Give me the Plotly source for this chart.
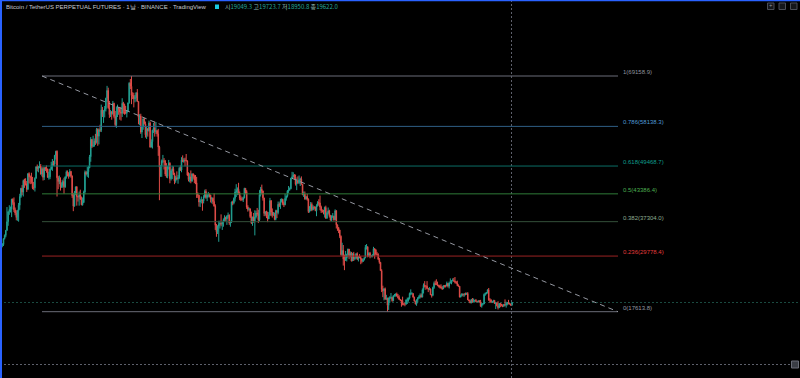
import plotly.graph_objects as go
import pandas as pd

# ---------------- data (prices in thousands of USDT, daily candles) ----------------
start_date = "2021-07-20"
open0_k = 30.8

close_k = [
    29.8, 32.1, 32.3, 33.6, 34.3, 35.4, 37.3, 39.5, 40.0, 40.0, 42.2, 41.5,
    39.9, 39.2, 38.2, 39.7, 40.9, 42.8, 44.6, 43.8, 46.3, 45.6, 45.6, 44.4, 47.8, 47.1, 47.0, 46.0, 44.7, 44.7, 46.8, 49.3, 48.9, 49.3, 49.5, 47.7, 48.9, 47.0, 49.1, 48.9, 48.8, 47.0, 47.1,
    48.8, 49.3, 50.0, 49.9, 51.8, 52.7, 46.9, 46.1, 46.4, 44.9, 45.2, 46.1, 44.9, 47.1, 48.2, 47.8, 47.3, 48.3, 47.3, 43.0, 40.7, 43.6, 44.9, 42.8, 42.7, 43.2, 42.2, 41.0, 41.5, 43.8,
    48.1, 47.7, 48.2, 49.1, 51.5, 55.3, 53.8, 53.9, 54.9, 54.7, 57.5, 56.0, 57.4, 57.3, 61.7, 60.9, 61.5, 62.0, 64.3, 66.0, 62.2, 60.7, 61.3, 60.9, 63.2, 60.3, 58.5, 60.6, 62.2, 61.9, 61.3,
    61.0, 63.2, 62.9, 61.4, 61.0, 61.5, 63.3, 67.6, 66.9, 64.9, 64.9, 64.2, 64.4, 65.5, 63.6, 60.1, 60.4, 56.9, 58.1, 59.8, 58.7, 56.3, 57.6, 57.2, 58.9, 53.6, 54.8, 57.3, 57.8, 57.0,
    57.2, 56.5, 53.6, 49.2, 49.4, 50.6, 50.6, 50.5, 47.7, 47.2, 49.4, 50.1, 46.7, 48.4, 48.9, 47.6, 46.2, 46.9, 46.7, 46.9, 49.0, 48.6, 50.8, 50.4, 50.8, 50.7, 50.6, 47.5, 46.5, 47.1, 46.2,
    47.7, 47.3, 46.4, 45.8, 43.4, 43.1, 41.6, 41.9, 42.0, 41.8, 42.7, 43.9, 42.6, 43.1, 43.2, 43.1, 42.2, 42.4, 41.7, 40.7, 36.5, 35.1, 36.3, 36.7, 36.9, 36.8, 37.2, 37.7, 38.2, 37.9, 38.5,
    38.7, 37.0, 37.3, 41.6, 41.4, 42.4, 43.8, 44.1, 44.4, 43.6, 42.4, 42.2, 42.1, 42.5, 44.6, 43.9, 40.5, 40.0, 40.1, 38.4, 37.0, 38.3, 37.3, 38.3, 39.2, 39.1, 37.7, 43.2,
    44.4, 44.0, 42.5, 39.1, 39.4, 38.4, 37.9, 38.7, 41.9, 39.4, 38.7, 38.8, 37.8, 39.7, 39.3, 41.1, 40.9, 41.8, 42.2, 41.3, 41.0, 42.4, 42.9, 44.0, 44.3, 44.5, 46.8, 47.1, 47.5, 47.1, 45.5,
    46.3, 45.8, 46.4, 46.6, 45.5, 43.2, 43.4, 42.3, 42.8, 42.2, 39.5, 40.1, 41.1, 39.9, 40.5, 40.4, 39.7, 40.8, 41.5, 41.4, 40.5, 39.7, 39.5, 39.5, 40.4, 38.1, 39.2, 39.7, 38.6, 37.6,
    38.5, 38.5, 37.7, 39.7, 36.6, 36.0, 35.5, 34.1, 30.1, 31.0, 29.1, 28.9, 29.3, 30.1, 31.3, 29.9, 30.4, 28.7, 30.3, 29.2, 29.4, 30.3, 29.1, 29.6, 29.5, 29.2, 28.6, 29.0, 29.4, 31.7, 31.8,
    29.8, 30.4, 29.7, 29.9, 29.9, 31.4, 31.1, 30.2, 30.1, 29.1, 28.4, 26.6, 22.5, 22.2, 22.6, 20.4, 20.5, 19.0, 20.6, 20.6, 20.7, 20.0, 21.1, 21.2, 21.5, 21.0, 20.7, 20.3, 20.1, 19.9,
    19.3, 19.3, 19.3, 20.2, 20.2, 20.6, 21.6, 21.6, 21.6, 20.8, 19.9, 19.3, 20.2, 20.6, 20.8, 21.2, 20.8, 22.4, 23.4, 23.2, 23.2, 22.7, 22.5, 22.6, 21.3, 21.2, 22.9, 23.8, 23.6, 23.6, 23.3,
    23.3, 23.0, 22.8, 22.6, 23.3, 23.2, 23.2, 23.8, 23.2, 23.9, 23.9, 24.4, 24.4, 24.3, 24.1, 23.9, 23.3, 23.2, 20.8, 21.1, 21.5, 21.4, 21.5, 21.4, 21.6, 20.2, 20.0, 19.5, 20.3, 19.8, 20.0,
    20.1, 19.9, 19.8, 20.0, 19.8, 18.8, 19.3, 19.3, 21.4, 21.6, 21.8, 22.4, 20.2, 20.2, 19.7, 19.8, 20.1, 19.4, 19.5, 18.9, 18.5, 19.4, 19.3, 18.9, 18.8, 19.2, 19.1, 19.4, 19.6, 19.4,
    19.3, 19.05, 19.622,
]

high_k = [
    31.0, 32.9, 32.6, 33.6, 34.5, 35.4, 40.5, 39.5, 40.9, 40.6, 42.3, 42.4,
    42.6, 40.4, 39.8, 39.9, 41.4, 43.4, 44.7, 45.3, 46.5, 46.7, 46.8, 46.2, 47.9, 48.1, 47.4, 48.0, 47.1, 46.0, 47.0, 49.4, 49.8, 49.5, 50.5, 49.9, 49.2, 49.3, 49.2, 49.3, 49.6, 48.9, 48.2,
    48.9, 50.4, 51.0, 50.6, 51.9, 52.8, 52.9, 47.3, 47.4, 47.0, 45.9, 46.5, 46.9, 47.2, 48.5, 48.5, 48.1, 48.8, 48.4, 47.4, 43.6, 44.0, 45.0, 45.1, 42.9, 43.9, 44.3, 42.8, 42.6, 44.1,
    48.5, 48.4, 49.3, 49.5, 51.9, 55.8, 55.3, 56.1, 55.5, 56.5, 57.8, 57.7, 57.7, 58.5, 62.9, 62.4, 61.7, 62.6, 64.4, 67.0, 66.6, 63.7, 61.7, 61.5, 63.7, 63.3, 61.5, 62.5, 62.9, 62.3, 62.4,
    62.4, 64.3, 63.5, 63.1, 62.6, 61.6, 63.3, 67.8, 68.5, 69.1589, 65.6, 65.5, 65.0, 65.6, 66.3, 63.6, 60.8, 60.9, 58.3, 59.9, 60.0, 59.2, 58.0, 57.8, 59.4, 59.2, 55.3, 57.4, 58.9, 59.2,
    59.1, 57.4, 57.6, 53.9, 49.7, 50.9, 51.9, 51.2, 50.8, 50.1, 49.5, 50.8, 50.3, 48.7, 49.5, 49.4, 48.0, 47.3, 48.3, 47.5, 49.3, 49.6, 51.4, 51.8, 51.2, 51.3, 52.1, 50.7, 48.1, 47.9, 48.5,
    47.9, 47.9, 47.6, 47.5, 47.1, 43.7, 43.1, 42.3, 42.8, 42.2, 43.1, 44.3, 44.4, 43.4, 43.8, 43.5, 43.2, 42.7, 42.6, 43.5, 41.1, 36.8, 36.5, 37.5, 37.5, 38.9, 37.2, 38.0, 38.7, 38.4, 38.7,
    39.3, 38.9, 37.5, 41.7, 41.9, 42.6, 44.5, 45.5, 44.8, 45.8, 43.9, 43.0, 42.7, 42.8, 44.7, 44.6, 44.2, 40.9, 40.4, 40.2, 39.5, 38.4, 39.2, 39.8, 39.7, 40.3, 39.9, 44.2,
    44.9, 45.4, 44.1, 42.5, 39.6, 39.7, 39.5, 39.4, 42.5, 42.0, 40.2, 39.4, 39.3, 39.9, 39.9, 41.7, 41.5, 42.3, 42.4, 42.3, 41.7, 43.4, 43.0, 44.2, 45.1, 44.8, 46.9, 48.2, 48.1, 47.7, 47.6,
    46.7, 47.2, 47.4, 46.9, 47.2, 45.5, 43.9, 43.9, 42.8, 43.4, 42.4, 40.7, 41.6, 41.5, 40.9, 40.7, 40.6, 41.1, 41.8, 42.2, 43.0, 40.8, 40.0, 39.9, 40.6, 40.8, 39.5, 40.4, 39.9, 38.8,
    38.7, 39.2, 38.6, 40.0, 39.8, 36.7, 36.1, 35.5, 34.3, 32.7, 32.2, 30.1, 30.9, 30.3, 31.4, 31.3, 30.8, 30.7, 30.5, 30.7, 29.6, 30.4, 30.6, 29.8, 30.2, 29.8, 29.3, 29.2, 29.5, 32.2, 32.4,
    31.9, 30.6, 30.7, 29.9, 30.2, 31.8, 31.5, 31.3, 30.7, 30.4, 29.4, 28.5, 26.9, 23.3, 22.8, 22.9, 21.3, 20.7, 20.7, 21.0, 21.7, 20.9, 21.2, 21.5, 21.6, 21.8, 21.5, 21.2, 20.4, 20.2,
    20.9, 19.4, 19.6, 20.3, 20.7, 20.7, 21.8, 22.5, 21.9, 21.6, 20.9, 20.0, 20.3, 20.8, 21.2, 21.6, 21.6, 22.7, 23.8, 24.3, 23.4, 24.3, 22.8, 23.0, 22.7, 21.4, 23.1, 24.2, 24.4, 24.7, 24.2,
    23.5, 23.5, 23.6, 23.2, 23.4, 23.4, 23.5, 24.2, 23.9, 24.2, 24.9, 24.5, 24.9, 25.0, 25.2, 24.3, 24.4, 23.6, 23.2, 21.4, 21.7, 21.5, 21.6, 21.8, 21.8, 21.9, 20.3, 20.1, 20.4, 20.6, 20.5,
    20.2, 20.4, 20.0, 20.0, 20.1, 20.2, 19.5, 19.5, 21.6, 21.8, 21.9, 22.5, 22.8, 20.6, 20.3, 19.9, 20.2, 20.1, 19.7, 19.6, 19.9, 19.5, 19.5, 19.3, 19.2, 19.3, 20.3, 19.8, 19.7, 20.2,
    19.5, 19.4, 19.7237,
]

low_k = [
    29.3, 29.5, 31.7, 32.0, 33.4, 33.9, 35.3, 36.4, 38.8, 39.3, 38.3, 41.0,
    39.4, 38.7, 37.6, 37.5, 37.3, 39.9, 42.5, 43.1, 42.8, 44.7, 45.2, 43.8, 44.2, 45.7, 45.5, 45.6, 44.4, 44.2, 43.9, 46.7, 48.3, 48.1, 49.0, 47.6, 47.2, 46.3, 46.4, 48.4, 48.0, 46.9, 46.5,
    46.6, 48.6, 48.4, 49.5, 49.4, 50.9, 42.8, 44.4, 45.5, 44.1, 44.7, 44.7, 43.4, 44.7, 46.7, 47.2, 46.7, 47.1, 46.9, 42.5, 39.6, 40.6, 43.1, 40.8, 41.7, 40.8, 42.1, 40.9, 40.8, 41.4,
    43.3, 47.4, 47.1, 46.9, 49.0, 50.4, 53.4, 53.6, 53.7, 54.1, 54.4, 53.9, 54.2, 56.9, 56.9, 60.2, 58.9, 60.1, 61.4, 63.5, 62.0, 60.0, 60.2, 59.6, 60.7, 59.9, 58.1, 57.8, 60.2, 60.7, 59.6,
    59.4, 60.2, 60.9, 60.7, 60.8, 60.1, 61.3, 63.1, 66.3, 63.0, 64.1, 62.3, 63.4, 63.6, 63.5, 58.6, 58.4, 56.5, 55.6, 57.4, 58.6, 55.7, 55.4, 55.9, 57.0, 53.5, 53.6, 53.3, 56.7, 55.9,
    56.5, 55.9, 51.7, 42.0, 47.1, 47.1, 50.1, 48.7, 47.3, 46.9, 46.8, 48.7, 45.7, 46.3, 46.6, 47.5, 45.5, 45.8, 46.4, 45.6, 46.6, 48.4, 48.1, 50.4, 50.2, 49.4, 50.5, 47.3, 46.1, 45.9, 45.7,
    46.0, 46.7, 45.7, 45.5, 42.5, 42.5, 40.6, 40.5, 41.3, 39.7, 41.3, 42.5, 42.3, 41.8, 42.6, 42.6, 41.5, 41.3, 41.1, 40.6, 35.5, 34.0, 34.6, 32.9, 35.8, 36.3, 35.5, 36.2, 37.4, 37.4, 36.6,
    38.0, 36.6, 36.2, 37.0, 40.9, 41.1, 41.7, 42.7, 43.1, 43.2, 42.0, 41.8, 41.9, 41.6, 42.4, 43.3, 40.1, 39.5, 39.7, 38.1, 36.8, 36.4, 37.1, 34.3, 38.0, 38.6, 37.0, 37.4,
    42.8, 43.3, 41.9, 38.5, 38.6, 38.1, 37.2, 37.9, 38.6, 38.5, 38.2, 38.7, 37.6, 37.6, 38.1, 38.9, 40.5, 40.1, 41.5, 40.9, 40.5, 40.9, 41.9, 42.6, 43.6, 44.1, 44.4, 46.6, 46.9, 46.6, 45.2,
    44.2, 45.6, 45.5, 45.1, 45.4, 43.1, 42.7, 42.1, 42.1, 41.9, 39.2, 39.3, 39.6, 39.6, 39.8, 40.0, 39.6, 38.5, 40.6, 40.8, 39.8, 39.2, 39.3, 38.9, 38.2, 37.9, 37.9, 38.9, 38.2, 37.6,
    37.4, 38.1, 37.5, 37.7, 35.8, 35.3, 34.8, 33.7, 29.9, 29.8, 27.7, 26.7, 28.7, 28.6, 29.5, 29.1, 29.5, 28.6, 28.7, 28.7, 28.9, 29.2, 28.9, 28.6, 29.3, 28.0, 28.2, 28.5, 28.8, 29.3, 31.2,
    29.5, 29.6, 29.3, 29.5, 29.5, 29.9, 29.2, 29.9, 29.9, 28.9, 28.1, 26.6, 21.9, 20.8, 20.1, 20.2, 20.2, 17.6138, 18.0, 19.6, 20.4, 19.8, 19.9, 20.9, 20.9, 21.0, 20.5, 20.2, 19.9, 18.7,
    19.0, 19.0, 18.8, 19.1, 19.3, 19.8, 20.3, 21.2, 21.3, 20.7, 19.9, 19.2, 18.9, 19.6, 20.4, 20.5, 20.8, 20.8, 21.6, 22.9, 22.4, 22.6, 21.9, 22.3, 21.3, 20.7, 21.0, 22.6, 23.4, 23.5, 23.2,
    22.9, 22.7, 22.7, 22.4, 22.6, 22.9, 22.9, 23.2, 22.9, 22.7, 23.9, 23.6, 24.3, 24.2, 23.8, 23.7, 23.2, 23.1, 20.8, 20.8, 21.1, 20.9, 20.9, 21.2, 21.4, 20.2, 19.9, 19.5, 19.6, 19.6, 19.8,
    19.6, 19.8, 19.7, 19.6, 19.6, 18.7, 18.5, 19.0, 19.3, 21.1, 21.4, 21.6, 20.0, 19.6, 19.5, 19.5, 19.7, 19.3, 18.2, 18.8, 18.1, 18.4, 18.6, 18.8, 18.6, 18.7, 18.8, 18.5, 19.0, 19.2,
    19.2, 18.9, 18.9508,
]

fib_ratios = ["1", "0.786", "0.618", "0.5", "0.382", "0.236", "0"]
fib_prices = [69158.9, 58138.3, 49468.7, 43386.4, 37304.0, 29778.4, 17613.8]
fib_line_colors = ["#6a6d78", "#2f5f86", "#0b6e66", "#2f7a37", "#34503a", "#9a2323", "#6a6d78"]
fib_label_colors = ["#8f929b", "#4f9ad6", "#0f9d8c", "#4caf50", "#8fae91", "#e23b3b", "#9598a1"]

header_title = "Bitcoin / TetherUS PERPETUAL FUTURES · 1날 · BINANCE · TradingView"
ohlc_labels = ["시", "고", "저", "종"]
ohlc_values = [19049.3, 19723.7, 18950.8, 19622.0]

# ---------------- build ----------------
W, H = 800, 378
n = min(len(close_k), len(high_k), len(low_k))
close = [v * 1000 for v in close_k[:n]]
opens = [open0_k * 1000] + close[:-1]
high = [max(h * 1000, o, c) for h, o, c in zip(high_k[:n], opens, close)]
low = [min(l * 1000, o, c) for l, o, c in zip(low_k[:n], opens, close)]
dates = pd.date_range(start_date, periods=n, freq="D")


def px(x):
    return x / W


def py(y):
    return 1 - y / H


fig = go.Figure()
fig.add_trace(go.Candlestick(
    x=dates, open=opens, high=high, low=low, close=close,
    increasing=dict(line=dict(color="#22a092", width=1), fillcolor="#22a092"),
    decreasing=dict(line=dict(color="#e04c48", width=1), fillcolor="#e04c48"),
    whiskerwidth=0, hoverinfo="skip",
))

shapes = []
annotations = []

# current price line
shapes.append(dict(type="line", xref="paper", yref="y", x0=0, x1=1,
                   y0=close[-1], y1=close[-1],
                   line=dict(color="#1a4a40", width=1, dash="2px,2px"), layer="below"))
# crosshair
shapes.append(dict(type="line", xref="paper", yref="paper", x0=px(511.5), x1=px(511.5), y0=0, y1=1,
                   line=dict(color="#5d606b", width=1, dash="2px,2px")))
shapes.append(dict(type="line", xref="paper", yref="paper", x0=0, x1=1, y0=py(364.5), y1=py(364.5),
                   line=dict(color="#5d606b", width=1, dash="2px,2px")))

# fib levels
fx0, fx1 = px(42), px(618)
for r, p, lc, tc in zip(fib_ratios, fib_prices, fib_line_colors, fib_label_colors):
    shapes.append(dict(type="line", xref="paper", yref="y", x0=fx0, x1=fx1, y0=p, y1=p,
                       line=dict(color=lc, width=1)))
    annotations.append(dict(xref="paper", yref="y", x=px(621), y=p, yshift=4,
                            text=f"{r}({p:.1f})", showarrow=False, xanchor="left", yanchor="middle",
                            font=dict(family="Liberation Sans", size=6, color=tc)))
# trend line (dashed)
shapes.append(dict(type="line", xref="paper", yref="y", x0=fx0, x1=fx1,
                   y0=fib_prices[0], y1=fib_prices[-1],
                   line=dict(color="#9598a1", width=1, dash="5px,4px")))

# header
annotations.append(dict(xref="paper", yref="paper", x=px(4), y=py(7), text=header_title,
                        showarrow=False, xanchor="left", yanchor="middle",
                        font=dict(family="Liberation Sans", size=6, color="#c8cad0")))
shapes.append(dict(type="rect", xref="paper", yref="paper", x0=px(215), x1=px(219), y0=py(9), y1=py(4.5),
                   fillcolor="#18c8e0", line=dict(width=0)))
ohlc_text = " ".join(f"{lab}<span style='color:#26a69a'>{val:.1f}</span>"
                     for lab, val in zip(ohlc_labels, ohlc_values))
annotations.append(dict(xref="paper", yref="paper", x=px(223), y=py(7), text=ohlc_text,
                        showarrow=False, xanchor="left", yanchor="middle",
                        font=dict(family="Noto Sans CJK KR", size=6, color="#8fb8b2")))

# top-right buttons
for x0 in (767.5, 779, 790.5):
    shapes.append(dict(type="rect", xref="paper", yref="paper", x0=px(x0), x1=px(x0 + 6.5),
                       y0=py(9.5), y1=py(3), fillcolor="#15171c", line=dict(color="#4a4d56", width=1)))
annotations.append(dict(xref="paper", yref="paper", x=px(770.8), y=py(6.3), text="+", showarrow=False,
                        font=dict(size=6, color="#9598a1"), xanchor="center", yanchor="middle"))
# bottom-right small button
shapes.append(dict(type="rect", xref="paper", yref="paper", x0=px(791.5), x1=px(798.5),
                   y0=py(368), y1=py(361), fillcolor="#3a3d45", line=dict(color="#6a6d78", width=1)))

# blue frame (left and top)
shapes.append(dict(type="rect", xref="paper", yref="paper", x0=0, x1=px(2), y0=0, y1=1,
                   fillcolor="#2962ff", line=dict(width=0)))
shapes.append(dict(type="rect", xref="paper", yref="paper", x0=0, x1=1, y0=py(1.2), y1=1,
                   fillcolor="#2962ff", line=dict(width=0)))

fig.update_layout(
    width=W, height=H,
    margin=dict(l=0, r=0, t=0, b=0),
    paper_bgcolor="#000000", plot_bgcolor="#000000",
    showlegend=False,
    shapes=shapes, annotations=annotations,
    xaxis=dict(visible=False, rangeslider=dict(visible=False),
               range=["2021-07-20 00:00", "2023-06-07 12:00"]),
    yaxis=dict(visible=False, range=[3114, 85779]),
    hovermode=False,
)

fig.write_html("out.html")
